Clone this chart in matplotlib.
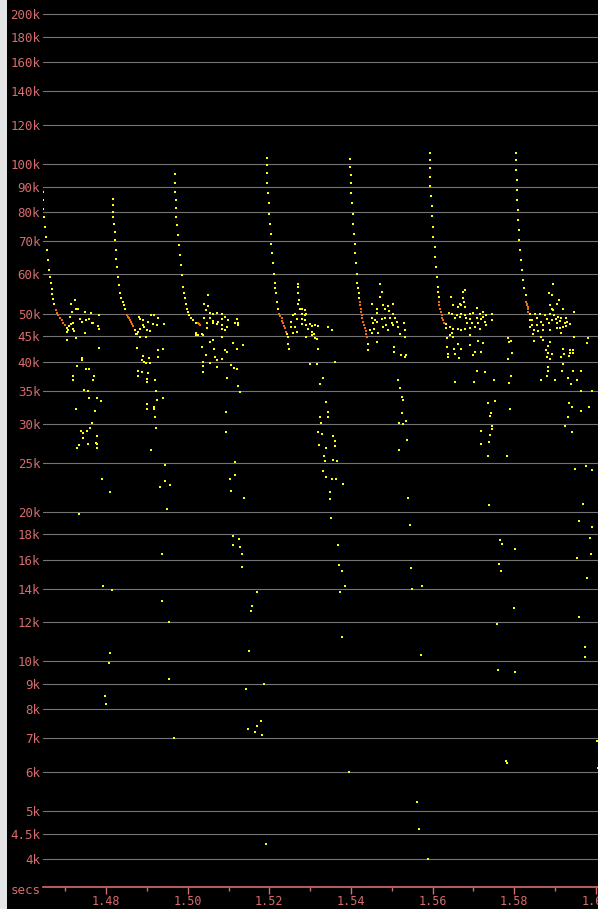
import numpy as np
import matplotlib
matplotlib.use("Agg")
import matplotlib.pyplot as plt
from matplotlib.patches import Rectangle
from matplotlib.ticker import FixedLocator, MultipleLocator, NullLocator

# (secs, Hz)

# descending sweeps of each pulse (yellow)
sweep_pts = [
    # pulse 1 (starts before the left edge)
    (1.4646, 87900), (1.4646, 84600), (1.4646, 81300), (1.4647, 78200), (1.4650, 74600),
    (1.4652, 71300), (1.4654, 67100), (1.4657, 64000), (1.4660, 61200), (1.4662, 59300),
    (1.4664, 57500), (1.4666, 56100), (1.4668, 54800), (1.4670, 53600), (1.4672, 52400),
    (1.4703, 46700), (1.4705, 45900),
    # pulse 2
    (1.4816, 85200), (1.4816, 82600), (1.4816, 80100), (1.4817, 78200), (1.4819, 75900),
    (1.4821, 73000), (1.4822, 70300), (1.4824, 67100), (1.4825, 64500), (1.4827, 62100),
    (1.4829, 59300), (1.4832, 57100), (1.4835, 54900), (1.4837, 53800), (1.4840, 52800),
    (1.4843, 52000), (1.4846, 51200), (1.4870, 46300), (1.4874, 45600),
    # pulse 3
    (1.4968, 95600), (1.4968, 91400), (1.4969, 87900), (1.4970, 84600), (1.4971, 81400),
    (1.4972, 78200), (1.4974, 75300), (1.4976, 71900), (1.4978, 68600), (1.4981, 65600),
    (1.4983, 62600), (1.4985, 59800), (1.4989, 56600), (1.4991, 55100), (1.4993, 53700),
    (1.4996, 52400), (1.4998, 51200), (1.5001, 50400), (1.5004, 49700), (1.5008, 49100),
    (1.5013, 48500), (1.5019, 47800), (1.5021, 45700), (1.5021, 45300),
    # pulse 4
    (1.5193, 102900), (1.5193, 99400), (1.5194, 95900), (1.5194, 91400), (1.5196, 87300),
    (1.5198, 83300), (1.5199, 79500), (1.5201, 75900), (1.5203, 72400), (1.5205, 69100),
    (1.5207, 66100), (1.5209, 63100), (1.5211, 60200), (1.5213, 57500), (1.5215, 56200),
    (1.5216, 54900), (1.5219, 52800), (1.5221, 51200), (1.5243, 45500), (1.5246, 44900),
    # pulse 5
    (1.5397, 102400), (1.5397, 98600), (1.5399, 95000), (1.5400, 91400), (1.5401, 87300),
    (1.5402, 83300), (1.5404, 79500), (1.5405, 75900), (1.5407, 72400), (1.5409, 69100),
    (1.5410, 66100), (1.5412, 63100), (1.5414, 60200), (1.5416, 57500), (1.5418, 56200),
    (1.5419, 54900), (1.5420, 53700),
    # pulse 6
    (1.5593, 105000), (1.5593, 101800), (1.5593, 98000), (1.5594, 94300), (1.5595, 90100),
    (1.5597, 86200), (1.5598, 82300), (1.5599, 78600), (1.5601, 74700), (1.5602, 71300),
    (1.5605, 68000), (1.5607, 65000), (1.5609, 62100), (1.5611, 59300), (1.5613, 56600),
    (1.5614, 55300), (1.5615, 54100), (1.5632, 46700),
    # pulse 7
    (1.5804, 105000), (1.5804, 101800), (1.5805, 97200), (1.5806, 92800), (1.5806, 88600),
    (1.5807, 84600), (1.5809, 80700), (1.5810, 77100), (1.5811, 73600), (1.5813, 70300),
    (1.5814, 67100), (1.5816, 64000), (1.5819, 61200), (1.5822, 58400), (1.5825, 56400),
    (1.5828, 54500), (1.5838, 48500), (1.5840, 47000),
]

# knee of each sweep (orange)
knee_pts = [
    (1.4677, 50800), (1.4680, 50200), (1.4683, 49700), (1.4687, 49100), (1.4691, 48500),
    (1.4695, 47900), (1.4699, 47400),
    (1.4850, 49700), (1.4853, 49300), (1.4856, 48900), (1.4858, 48500), (1.4861, 48100),
    (1.4864, 47600), (1.4866, 47200),
    (1.5025, 47800), (1.5028, 47600), (1.5031, 47500),
    (1.5224, 50000), (1.5227, 49400), (1.5230, 48900), (1.5232, 48300), (1.5234, 47800),
    (1.5236, 47200), (1.5238, 46700), (1.5240, 45900),
    (1.5422, 52800), (1.5423, 52000), (1.5424, 51200), (1.5425, 50400), (1.5427, 49700),
    (1.5428, 48900), (1.5430, 48100), (1.5432, 47400), (1.5434, 46700), (1.5436, 46100),
    (1.5438, 45600), (1.5440, 44800),
    (1.5615, 52800), (1.5617, 52000), (1.5619, 51200), (1.5621, 50400), (1.5623, 49700),
    (1.5624, 49100), (1.5626, 48500), (1.5629, 47800),
    (1.5830, 52800), (1.5831, 52400), (1.5832, 52000), (1.5833, 51500), (1.5833, 51000),
    (1.5834, 50400),
]

# scattered echoes around 25k-58k
cloud_pts = [
    # pulse 1
    (1.4723, 53200), (1.4714, 52400), (1.4726, 51200), (1.4730, 51000), (1.4716, 50300),
    (1.4749, 50400), (1.4763, 50200), (1.4783, 49800), (1.4711, 49300), (1.4736, 48700),
    (1.4740, 48100), (1.4750, 48500), (1.4758, 48700), (1.4764, 47800), (1.4768, 47900),
    (1.4719, 47900), (1.4714, 47600), (1.4709, 47300), (1.4707, 46300), (1.4719, 46500),
    (1.4722, 46200), (1.4748, 45700), (1.4781, 47300), (1.4782, 46500), (1.4705, 44200),
    (1.4725, 44600), (1.4783, 42600), (1.4741, 40800), (1.4741, 40400), (1.4728, 39300),
    (1.4750, 38700), (1.4757, 38700), (1.4719, 37400), (1.4719, 36800), (1.4771, 37400),
    (1.4768, 36700), (1.4746, 35100), (1.4756, 34900), (1.4758, 33900), (1.4777, 33900),
    (1.4786, 33300), (1.4726, 32100), (1.4773, 31900), (1.4764, 30200), (1.4760, 29500),
    (1.4737, 29000), (1.4744, 28800), (1.4752, 29000), (1.4777, 28400), (1.4744, 28100),
    (1.4774, 27500), (1.4778, 27400), (1.4755, 27400), (1.4734, 27200), (1.4729, 26900),
    (1.4778, 26900),
    # pulse 2
    (1.4880, 49300), (1.4883, 48700), (1.4891, 48500), (1.4910, 49800), (1.4917, 49800),
    (1.4928, 48900), (1.4903, 48100), (1.4915, 47600), (1.4924, 47400), (1.4942, 47600),
    (1.4889, 47400), (1.4893, 47000), (1.4883, 46500), (1.4879, 45900), (1.4899, 46300),
    (1.4907, 46200), (1.4875, 45600), (1.4883, 44900), (1.4897, 44900), (1.4876, 42600),
    (1.4940, 42500), (1.4928, 42200), (1.4891, 41100), (1.4906, 40800), (1.4928, 40900),
    (1.4887, 40300), (1.4893, 40000), (1.4897, 39700), (1.4907, 39800), (1.4879, 38400),
    (1.4887, 38200), (1.4903, 37900), (1.4877, 37400), (1.4901, 37000), (1.4901, 36500),
    (1.4920, 36800), (1.4922, 34900), (1.4925, 33500), (1.4938, 33900), (1.4899, 32900),
    (1.4899, 32200), (1.4917, 32500), (1.4917, 32100), (1.4920, 31000), (1.4922, 29500),
    (1.4911, 26600), (1.4944, 24800),
    # pulse 3
    (1.5049, 54500), (1.5040, 52400), (1.5050, 51900), (1.5044, 50800), (1.5054, 50200),
    (1.5062, 50000), (1.5071, 50200), (1.5083, 50000), (1.5040, 48900), (1.5054, 48900),
    (1.5062, 48400), (1.5075, 48100), (1.5085, 48700), (1.5091, 49300), (1.5099, 48500),
    (1.5046, 47800), (1.5061, 47900), (1.5071, 47600), (1.5085, 47400), (1.5095, 47000),
    (1.5083, 46500), (1.5091, 46300), (1.5085, 44800), (1.5046, 46700), (1.5038, 45300),
    (1.5034, 45600), (1.5025, 45300), (1.5062, 44200), (1.5054, 43900), (1.5064, 42500),
    (1.5036, 42900), (1.5091, 42200), (1.5097, 41900), (1.5044, 41300), (1.5067, 40900),
    (1.5071, 40400), (1.5083, 40600), (1.5038, 40000), (1.5054, 39800), (1.5038, 39200),
    (1.5071, 39000), (1.5038, 38200), (1.5095, 37200), (1.5093, 31700), (1.5093, 28900),
    (1.5120, 48700), (1.5124, 47900), (1.5116, 47800), (1.5122, 47400), (1.5111, 43700),
    (1.5120, 42500), (1.5136, 43200), (1.5106, 39400), (1.5114, 38900), (1.5120, 38700),
    (1.5122, 35800), (1.5128, 34800),
    # pulse 4
    (1.5271, 57300), (1.5271, 56500), (1.5271, 55100), (1.5273, 53200), (1.5269, 52400),
    (1.5275, 51200), (1.5281, 51200), (1.5287, 50800), (1.5291, 50000), (1.5279, 50000),
    (1.5287, 49700), (1.5263, 50000), (1.5258, 49700), (1.5254, 48100), (1.5267, 48700),
    (1.5281, 48700), (1.5287, 48500), (1.5254, 47000), (1.5263, 47000), (1.5267, 45900),
    (1.5258, 45700), (1.5279, 47600), (1.5291, 47400), (1.5299, 47600), (1.5305, 47200),
    (1.5312, 47400), (1.5320, 47200), (1.5295, 46500), (1.5304, 45900), (1.5310, 45600),
    (1.5291, 44900), (1.5305, 45300), (1.5312, 44600), (1.5316, 44400), (1.5246, 44800),
    (1.5246, 43500), (1.5248, 42400), (1.5320, 42500), (1.5299, 39600), (1.5316, 39600),
    (1.5361, 40000), (1.5343, 47000), (1.5353, 46300), (1.5331, 37200), (1.5324, 36100),
    (1.5340, 33200), (1.5343, 31700), (1.5344, 31000), (1.5324, 31000), (1.5326, 30100),
    (1.5318, 28900), (1.5328, 28700), (1.5355, 28400), (1.5361, 27700), (1.5361, 27100),
    (1.5321, 27200), (1.5338, 26900), (1.5334, 25900), (1.5336, 25300), (1.5355, 25400),
    (1.5366, 25300),
    # pulse 5
    (1.5471, 57300), (1.5475, 55300), (1.5471, 54100), (1.5451, 52400), (1.5465, 51000),
    (1.5465, 50200), (1.5479, 52000), (1.5490, 51800), (1.5502, 52200), (1.5483, 51200),
    (1.5493, 50600), (1.5504, 49900), (1.5451, 49100), (1.5459, 48500), (1.5455, 47800),
    (1.5463, 48100), (1.5475, 48700), (1.5483, 49100), (1.5496, 48900), (1.5508, 48900),
    (1.5512, 48100), (1.5500, 47800), (1.5487, 47400), (1.5479, 47000), (1.5491, 46300),
    (1.5504, 47400), (1.5516, 47000), (1.5531, 47900), (1.5446, 46300), (1.5457, 46500),
    (1.5451, 45700), (1.5467, 45700), (1.5520, 45500), (1.5532, 46300), (1.5532, 44800),
    (1.5442, 43500), (1.5463, 43900), (1.5442, 42200), (1.5505, 42900), (1.5505, 41800),
    (1.5522, 41300), (1.5532, 40900), (1.5536, 41300), (1.5516, 36700), (1.5520, 35500),
    (1.5524, 34000), (1.5528, 33600), (1.5524, 31500), (1.5518, 30100), (1.5528, 30000),
    (1.5536, 30400), (1.5538, 27900), (1.5518, 26600),
    # pulse 6
    (1.5645, 54100), (1.5675, 55300), (1.5679, 55700), (1.5675, 53700), (1.5677, 52800),
    (1.5667, 52300), (1.5651, 52000), (1.5663, 51600), (1.5671, 52000), (1.5679, 51600),
    (1.5641, 50200), (1.5647, 50000), (1.5659, 49700), (1.5671, 50000), (1.5679, 49700),
    (1.5692, 50000), (1.5700, 50200), (1.5708, 51400), (1.5716, 50000), (1.5724, 50400),
    (1.5723, 49300), (1.5732, 49700), (1.5745, 50000), (1.5747, 48500), (1.5655, 49100),
    (1.5667, 49300), (1.5683, 48900), (1.5692, 48700), (1.5708, 48900), (1.5720, 48700),
    (1.5685, 47800), (1.5696, 47800), (1.5712, 47800), (1.5728, 48100), (1.5732, 47400),
    (1.5633, 47600), (1.5643, 46900), (1.5651, 46500), (1.5663, 46500), (1.5671, 46300),
    (1.5679, 46500), (1.5692, 46700), (1.5704, 47000), (1.5716, 46500), (1.5647, 45700),
    (1.5643, 45300), (1.5635, 44600), (1.5651, 44800), (1.5692, 45300), (1.5712, 44100),
    (1.5723, 43700), (1.5635, 42900), (1.5663, 43500), (1.5652, 42400), (1.5669, 42500),
    (1.5639, 41500), (1.5655, 41500), (1.5664, 40800), (1.5700, 41300), (1.5704, 41900),
    (1.5720, 41900), (1.5637, 40900), (1.5692, 43200), (1.5710, 38400), (1.5728, 38200),
    (1.5655, 36500), (1.5702, 36500), (1.5750, 36700), (1.5735, 33100), (1.5753, 33400),
    (1.5790, 32200), (1.5743, 31600), (1.5742, 31100), (1.5745, 29700), (1.5747, 29300),
    (1.5720, 29000), (1.5741, 28500), (1.5720, 27400), (1.5739, 27600), (1.5737, 25900),
    (1.5783, 25900), (1.5785, 44600), (1.5788, 43900), (1.5792, 44000), (1.5794, 41700),
    (1.5785, 40500), (1.5792, 37400), (1.5788, 36300),
    # pulse 7
    (1.5896, 57300), (1.5886, 55100), (1.5892, 54500), (1.5910, 53200), (1.5904, 52300),
    (1.5888, 52000), (1.5892, 51200), (1.5896, 50800), (1.5920, 51200), (1.5947, 50400),
    (1.5839, 50000), (1.5851, 49900), (1.5863, 50000), (1.5875, 49700), (1.5888, 50000),
    (1.5897, 49700), (1.5908, 49300), (1.5916, 48900), (1.5928, 48900), (1.5930, 48100),
    (1.5843, 48500), (1.5855, 48900), (1.5867, 48100), (1.5880, 48700), (1.5892, 48500),
    (1.5902, 48700), (1.5912, 48400), (1.5924, 47800), (1.5937, 47600), (1.5843, 47400),
    (1.5855, 47400), (1.5871, 47400), (1.5886, 47900), (1.5904, 47900), (1.5912, 46700),
    (1.5920, 47000), (1.5928, 47200), (1.5848, 46300), (1.5859, 46200), (1.5871, 46300),
    (1.5888, 46300), (1.5904, 46700), (1.5914, 45700), (1.5847, 45600), (1.5867, 44800),
    (1.5871, 44200), (1.5848, 44100), (1.5888, 43900), (1.5884, 43000), (1.5878, 42200),
    (1.5884, 41600), (1.5892, 41500), (1.5880, 40900), (1.5888, 40500), (1.5916, 40900),
    (1.5922, 41500), (1.5935, 41100), (1.5920, 42500), (1.5937, 42200), (1.5945, 42200),
    (1.5937, 41700), (1.5945, 41700), (1.5947, 44800), (1.5980, 44600), (1.5979, 43700),
    (1.5919, 39600), (1.5882, 39000), (1.5882, 38400), (1.5880, 37400), (1.5866, 36800),
    (1.5900, 36700), (1.5918, 38300), (1.5933, 37200), (1.5945, 38400), (1.5965, 38400),
    (1.5953, 36700), (1.5939, 36100), (1.5963, 34900), (1.5992, 34900), (1.5935, 33100),
    (1.5942, 32400), (1.5983, 32400), (1.5963, 31800), (1.5932, 31000), (1.5924, 29700),
    (1.5942, 28900),
]

# isolated low points
stray_pts = [
    (1.4789, 23200), (1.4809, 21900), (1.4734, 19800), (1.4791, 14200), (1.4814, 13900),
    (1.4809, 10400), (1.4807, 9900), (1.4798, 8500), (1.4800, 8200),
    (1.4944, 23000), (1.4932, 22400), (1.4956, 22600), (1.4948, 20200), (1.4937, 16400),
    (1.4937, 13200), (1.4954, 12000), (1.4954, 9200), (1.4966, 7000),
    (1.5116, 25100), (1.5116, 23700), (1.5103, 23200), (1.5106, 22000), (1.5138, 21300),
    (1.5111, 17900), (1.5126, 17600), (1.5111, 17100), (1.5128, 17000), (1.5134, 16400),
    (1.5134, 15500), (1.5170, 13800), (1.5158, 12900), (1.5156, 12600), (1.5151, 10500),
    (1.5143, 8800), (1.5188, 9000), (1.5179, 7600), (1.5169, 7400), (1.5148, 7300),
    (1.5165, 7200), (1.5183, 7100), (1.5191, 4300),
    (1.5331, 24100), (1.5340, 23500), (1.5353, 23200), (1.5363, 23200), (1.5380, 22700),
    (1.5348, 21900), (1.5348, 21200), (1.5351, 19400), (1.5368, 17100), (1.5370, 15600),
    (1.5378, 15200), (1.5386, 14200), (1.5373, 13800), (1.5378, 11200), (1.5396, 6000),
    (1.5540, 21300), (1.5545, 18800), (1.5547, 15400), (1.5550, 14000), (1.5573, 14200),
    (1.5571, 10300), (1.5562, 5200), (1.5567, 4600), (1.5590, 4000),
    (1.5738, 20600), (1.5765, 17500), (1.5770, 17200), (1.5803, 16800), (1.5763, 15700),
    (1.5768, 15200), (1.5800, 12800), (1.5758, 11900), (1.5760, 9600), (1.5803, 9500),
    (1.5780, 6300), (1.5783, 6250),
    (1.5950, 24400), (1.5977, 24700), (1.5990, 24200), (1.5968, 20700), (1.5960, 19100),
    (1.5990, 18600), (1.5986, 17700), (1.5955, 16100), (1.5988, 16400), (1.5978, 14700),
    (1.5960, 12300), (1.5973, 10700), (1.5975, 10200), (1.6003, 6900), (1.6005, 6100),
]

ytick_vals = [4000, 4500, 5000, 6000, 7000, 8000, 9000, 10000, 12000, 14000, 16000,
              18000, 20000, 25000, 30000, 35000, 40000, 45000, 50000, 60000, 70000,
              80000, 90000, 100000, 120000, 140000, 160000, 180000, 200000]
ytick_text = ["4k", "4.5k", "5k", "6k", "7k", "8k", "9k", "10k", "12k", "14k", "16k",
              "18k", "20k", "25k", "30k", "35k", "40k", "45k", "50k", "60k", "70k",
              "80k", "90k", "100k", "120k", "140k", "160k", "180k", "200k"]
xtick_vals = [1.48, 1.50, 1.52, 1.54, 1.56, 1.58, 1.60]

SALMON = "#d66c6c"
YELLOW = "#ffff00"
ORANGE = "#f46a10"
MONO = "DejaVu Sans Mono"

W, H = 598, 909
fig = plt.figure(figsize=(W / 100, H / 100), dpi=100, facecolor="black")
# light strip on the far left
fig.patches.append(Rectangle((0, 0), 7 / W, 1, transform=fig.transFigure,
                             facecolor="#e4e4e4", edgecolor="none"))

ax = fig.add_axes([43 / W, 22 / H, 580 / W, 884 / H])
ax.set_facecolor("black")
ax.set_yscale("log")
ax.set_xlim(1.4645, 1.6067)
ax.set_ylim(3516, 210700)

ax.yaxis.set_major_locator(FixedLocator(ytick_vals))
ax.yaxis.set_minor_locator(NullLocator())
ax.set_yticklabels(ytick_text)
ax.tick_params(axis="y", length=0, pad=2, labelcolor=SALMON, labelsize=9)
for lab in ax.get_yticklabels():
    lab.set_family(MONO)
ax.grid(axis="y", color="#747474", linewidth=0.8)
ax.set_axisbelow(True)

ax.xaxis.set_major_locator(FixedLocator(xtick_vals))
ax.xaxis.set_minor_locator(MultipleLocator(0.01))
ax.set_xticklabels([f"{v:.2f}" for v in xtick_vals])
ax.tick_params(axis="x", which="major", length=5, width=1, color=SALMON,
               labelcolor=SALMON, labelsize=8.5, pad=1)
ax.tick_params(axis="x", which="minor", length=3, width=1, color=SALMON)
for lab in ax.get_xticklabels():
    lab.set_family(MONO)

for side in ["top", "left", "right"]:
    ax.spines[side].set_visible(False)
ax.spines["bottom"].set_color(SALMON)
ax.spines["bottom"].set_linewidth(1.2)

def draw(pts, color):
    t = np.array([p[0] for p in pts])
    f = np.array([p[1] for p in pts])
    ax.scatter(t, f, s=3.2, marker="s", c=color, linewidths=0, zorder=3)

draw(cloud_pts, YELLOW)
draw(stray_pts, YELLOW)
draw(sweep_pts, YELLOW)
draw(knee_pts, ORANGE)

fig.text(41 / W, 1 - 890 / H, "secs", ha="right", va="center",
         color=SALMON, fontsize=9, family=MONO)

fig.savefig("out.png", dpi=100, facecolor="black")
